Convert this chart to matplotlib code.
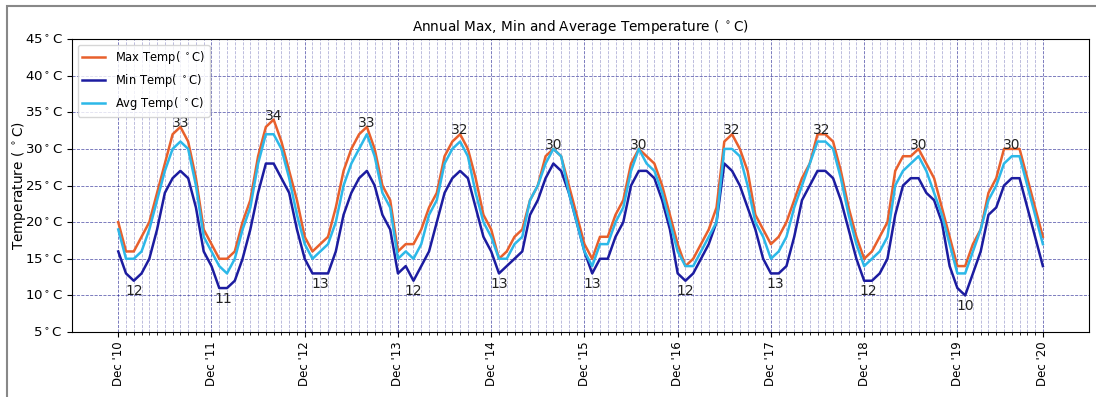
import matplotlib
matplotlib.use("Agg")
import matplotlib.pyplot as plt
from matplotlib.patches import Rectangle
import numpy as np

# monthly values, Dec '10 -> Dec '20
max_temp = [20, 16, 16, 18, 20, 24, 28, 32, 33, 31, 26, 19,
            17, 15, 15, 16, 20, 23, 29, 33, 34, 31, 27, 23,
            18, 16, 17, 18, 22, 27, 30, 32, 33, 30, 25, 23,
            16, 17, 17, 19, 22, 24, 29, 31, 32, 30, 26, 21,
            19, 15, 16, 18, 19, 23, 25, 29, 30, 29, 25, 21,
            17, 15, 18, 18, 21, 23, 28, 30, 29, 28, 25, 21,
            17, 14, 15, 17, 19, 22, 31, 32, 30, 27, 21, 19,
            17, 18, 20, 23, 26, 28, 32, 32, 31, 27, 22, 18,
            15, 16, 18, 20, 27, 29, 29, 30, 28, 26, 22, 18,
            14, 14, 17, 19, 24, 26, 30, 30, 30, 26, 22, 18]
min_temp = [16, 13, 12, 13, 15, 19, 24, 26, 27, 26, 22, 16,
            14, 11, 11, 12, 15, 19, 24, 28, 28, 26, 24, 19,
            15, 13, 13, 13, 16, 21, 24, 26, 27, 25, 21, 19,
            13, 14, 12, 14, 16, 20, 24, 26, 27, 26, 22, 18,
            16, 13, 14, 15, 16, 21, 23, 26, 28, 27, 24, 20,
            16, 13, 15, 15, 18, 20, 25, 27, 27, 26, 23, 19,
            13, 12, 13, 15, 17, 20, 28, 27, 25, 22, 19, 15,
            13, 13, 14, 18, 23, 25, 27, 27, 26, 23, 19, 15,
            12, 12, 13, 15, 21, 25, 26, 26, 24, 23, 20, 14,
            11, 10, 13, 16, 21, 22, 25, 26, 26, 22, 18, 14]
avg_temp = [19, 15, 15, 16, 19, 23, 27, 30, 31, 30, 25, 18,
            16, 14, 13, 15, 19, 22, 28, 32, 32, 30, 26, 21,
            17, 15, 16, 17, 20, 25, 28, 30, 32, 29, 24, 22,
            15, 16, 15, 17, 21, 23, 28, 30, 31, 29, 24, 20,
            18, 15, 15, 17, 18, 23, 25, 28, 30, 29, 24, 20,
            16, 14, 17, 17, 20, 22, 27, 30, 28, 27, 24, 20,
            16, 14, 14, 16, 18, 20, 30, 30, 29, 25, 20, 18,
            15, 16, 18, 22, 25, 28, 31, 31, 30, 26, 21, 17,
            14, 15, 16, 18, 25, 27, 28, 29, 27, 24, 21, 17,
            13, 13, 16, 19, 23, 25, 28, 29, 29, 25, 21, 17]
years = ["10", "11", "12", "13", "14", "15", "16", "17", "18", "19", "20"]

n = len(max_temp)
x = np.arange(n)

fig = plt.figure(figsize=(10.96, 3.97), dpi=100)
ax = fig.add_axes([0.0657, 0.1637, 0.928, 0.738])

ax.plot(x, max_temp, color="#e8602c", lw=1.8, label="Max Temp( $^\\circ$C)")
ax.plot(x, min_temp, color="#1c1ca0", lw=1.8, label="Min Temp( $^\\circ$C)")
ax.plot(x, avg_temp, color="#2cb8e8", lw=1.8, label="Avg Temp( $^\\circ$C)")

# yearly peak / trough labels
mx = np.array(max_temp)
mn = np.array(min_temp)
for k in range(0, n, 12):
    seg = mx[k:k + 12]
    idx = k + np.flatnonzero(seg == seg.max()).mean()
    ax.text(idx, seg.max(), str(int(seg.max())), ha="center", fontsize=10, color="#222222")
    seg = mn[k:k + 12]
    idx = k + np.flatnonzero(seg == seg.min()).mean()
    ax.text(idx, seg.min() - 2, str(int(seg.min())), ha="center", fontsize=10, color="#222222")

ticks = list(range(0, n - 1, 12)) + [n - 1]
ax.set_xticks(ticks)
ax.set_xticklabels(["Dec '" + y for y in years], rotation=90, fontsize=8.5)
ax.set_xticks(x, minor=True)
ax.set_ylim(5, 45)
yt = np.arange(5, 46, 5)
ax.set_yticks(yt)
ax.set_yticklabels([str(v) + "$^\\circ$C" for v in yt], fontsize=9.6)
ax.set_ylabel("Temperature ( $^\\circ$C)", fontsize=9.8)
ax.yaxis.set_label_coords(-0.043, 0.5)
ax.set_title("Annual Max, Min and Average Temperature ( $^\\circ$C)", fontsize=9.8)

ax.grid(which="major", color="navy", linestyle="--", lw=0.6, alpha=0.6)
ax.grid(which="minor", axis="x", color="navy", linestyle="--", lw=0.6, alpha=0.3)
ax.legend(loc="upper left", fontsize=8.3)

fig.add_artist(Rectangle((0.0065, -0.1), 1.2, 1.085, transform=fig.transFigure,
                         fill=False, ec="#888888", lw=1.5))
fig.savefig("out.png", dpi=100)
